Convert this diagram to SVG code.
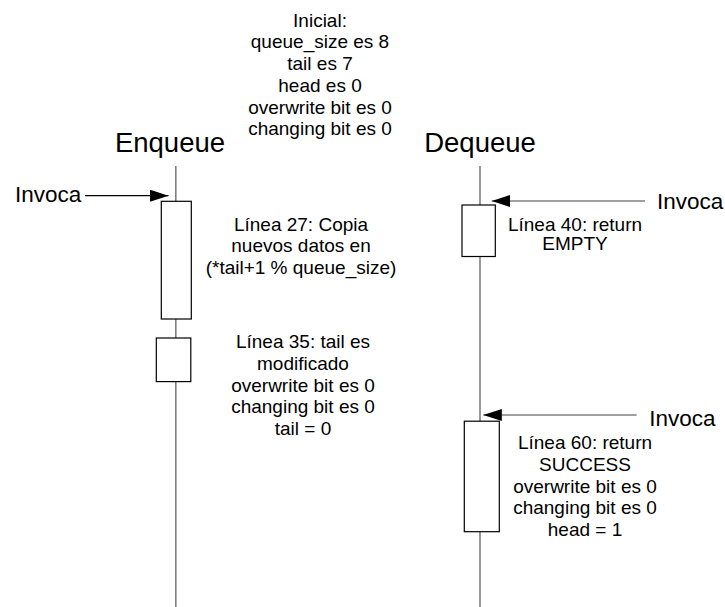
<svg xmlns="http://www.w3.org/2000/svg" width="725" height="607" viewBox="0 0 725 607">
<defs>
<style>
text{font-family:"Liberation Sans",Arial,sans-serif;fill:#000}
.t{font-size:19px;text-anchor:middle}
.h{font-size:27.5px;text-anchor:middle}
.i{font-size:22.5px}
.life{stroke:#808080;stroke-width:1.6;fill:none}
.box{fill:#fff;stroke:#000;stroke-width:1.2}
.arr{stroke-width:1.3;fill:none}
</style>
<marker id="ah" markerUnits="userSpaceOnUse" markerWidth="19" markerHeight="13" refX="18.5" refY="6" orient="auto">
<path d="M0,0 L18.5,6 L0,12 z" fill="#000"/>
</marker>
</defs>
<g id="initial">
<text class="t" x="320" y="26.7">Inicial:</text>
<text class="t" x="320" y="48.4">queue_size es 8</text>
<text class="t" x="320" y="70.1">tail es 7</text>
<text class="t" x="320" y="91.8">head es 0</text>
<text class="t" x="320" y="113.5">overwrite bit es 0</text>
<text class="t" x="320" y="135.2">changing bit es 0</text>
</g>
<g id="enqueue">
<text class="h" x="170" y="151.7">Enqueue</text>
<line class="life" x1="175.8" y1="166" x2="175.8" y2="607"/>
</g>
<g id="dequeue">
<text class="h" x="480" y="151.7">Dequeue</text>
<line class="life" x1="480" y1="166" x2="480" y2="607"/>
</g>
<g id="enq-act1">
<rect class="box" x="161.3" y="201.3" width="30" height="117.7"/>
<text class="t" x="301" y="230.7">Línea 27: Copia</text>
<text class="t" x="301" y="252.4">nuevos datos en</text>
<text class="t" x="301" y="274.1">(*tail+1 % queue_size)</text>
</g>
<g id="enq-act2">
<rect class="box" x="156.3" y="338" width="34.5" height="43.6"/>
<text class="t" x="303" y="348.3">Línea 35: tail es</text>
<text class="t" x="303" y="370">modificado</text>
<text class="t" x="303" y="391.7">overwrite bit es 0</text>
<text class="t" x="303" y="413.4">changing bit es 0</text>
<text class="t" x="303" y="435.1">tail = 0</text>
</g>
<g id="deq-act1">
<rect class="box" x="462" y="205" width="33.3" height="51.5"/>
<text class="t" x="575" y="230.7">Línea 40: return</text>
<text class="t" x="575" y="250.2">EMPTY</text>
</g>
<g id="deq-act2">
<rect class="box" x="464.3" y="421.2" width="35" height="110.5"/>
<text class="t" x="585" y="449.3">Línea 60: return</text>
<text class="t" x="585" y="471">SUCCESS</text>
<text class="t" x="585" y="492.7">overwrite bit es 0</text>
<text class="t" x="585" y="514.4">changing bit es 0</text>
<text class="t" x="585" y="536.1">head = 1</text>
</g>
<g id="callers">
<text class="i" x="15" y="201.7">Invoca</text>
<text class="i" x="657" y="209.3">Invoca</text>
<text class="i" x="649.3" y="426">Invoca</text>
</g>
<g id="connectors">
<line class="arr" x1="85" y1="195.7" x2="168.5" y2="195.7" stroke="#000" marker-end="url(#ah)"/>
<line class="arr" x1="645" y1="201" x2="491.7" y2="201" stroke="#808080" marker-end="url(#ah)"/>
<line class="arr" x1="636.7" y1="415" x2="483.3" y2="415" stroke="#808080" marker-end="url(#ah)"/>
</g>
</svg>
